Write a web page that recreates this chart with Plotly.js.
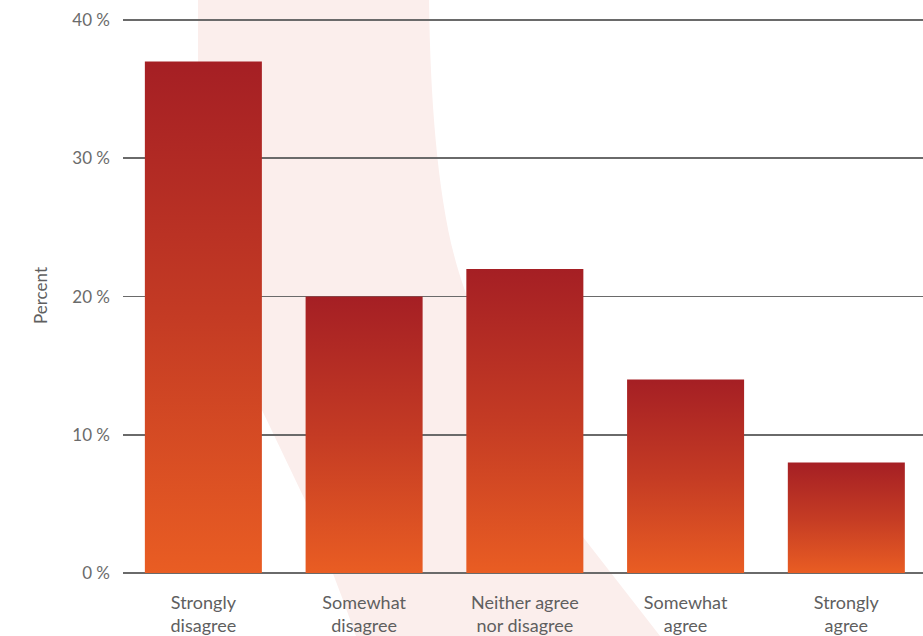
<!DOCTYPE html>
<html>
<head>
<meta charset="utf-8">
<script src="https://cdn.plot.ly/plotly-3.0.1.min.js"></script>
<style>
  html, body { margin: 0; padding: 0; background: #ffffff; }
  #chart { width: 923px; height: 636px; }
</style>
</head>
<body>
<div id="chart"></div>
<script>
// Survey responses (percent of respondents)
const categories = [
  'Strongly<br>disagree',
  'Somewhat<br>disagree',
  'Neither agree<br>nor disagree',
  'Somewhat<br>agree',
  'Strongly<br>agree'
];
const percents = [37, 20, 22, 14, 8];
const yTicks = [0, 10, 20, 30, 40];
const yTickText = yTicks.map(v => v + ' %');

// Plot frame in pixels
const W = 923, H = 636;
const M = { l: 123, r: 0, t: 19, b: 63 };
const PW = W - M.l - M.r, PH = H - M.t - M.b;

// Decorative swoosh behind the bars, outlined in page pixels and
// converted to paper coordinates.
function px(x, y) {
  return ((x - M.l) / PW).toFixed(4) + ',' + ((H - M.b - y) / PH).toFixed(4);
}
const swoosh =
  'M ' + px(198, -5) +
  ' L ' + px(429, -5) +
  ' C ' + px(430, 100) + ' ' + px(438, 200) + ' ' + px(457, 266) +
  ' C ' + px(476, 332) + ' ' + px(540, 470) + ' ' + px(583, 537) +
  ' L ' + px(660, 636) +
  ' L ' + px(690, 675) +
  ' L ' + px(370, 675) +
  ' L ' + px(343, 600) +
  ' L ' + px(305, 500) +
  ' L ' + px(262, 410) +
  ' C ' + px(225, 335) + ' ' + px(198, 250) + ' ' + px(198, 120) +
  ' Z';

const FONT = 'Lato, "Open Sans", sans-serif';

const trace = {
  type: 'bar',
  x: categories,
  y: percents,
  marker: { color: '#C9391F', line: { width: 0 } },
  hoverinfo: 'x+y'
};

const layout = {
  width: W,
  height: H,
  margin: M,
  paper_bgcolor: '#ffffff',
  plot_bgcolor: 'rgba(0,0,0,0)',
  showlegend: false,
  bargap: 0.272,
  font: { family: FONT, color: '#666666' },
  xaxis: {
    type: 'category',
    range: [-0.5, 4.477],
    showgrid: false,
    zeroline: false,
    showline: false,
    ticks: '',
    tickfont: { family: FONT, size: 18, color: '#5f5f5f' },
    ticklabelstandoff: 17,
    fixedrange: true
  },
  yaxis: {
    range: [0, 40.08],
    tickmode: 'array',
    tickvals: yTicks,
    ticktext: yTickText,
    showgrid: true,
    gridcolor: '#6a6a6a',
    gridwidth: 1.8,
    zeroline: true,
    zerolinecolor: '#6a6a6a',
    zerolinewidth: 1.8,
    showline: false,
    ticks: '',
    tickfont: { family: FONT, size: 17, color: '#6b6b6b' },
    ticklabelstandoff: 12,
    fixedrange: true
  },
  shapes: [{
    type: 'path',
    xref: 'paper',
    yref: 'paper',
    path: swoosh,
    fillcolor: '#FBEEEC',
    line: { width: 0 },
    layer: 'below'
  }],
  annotations: [{
    text: 'Percent',
    xref: 'paper', yref: 'paper',
    x: (40 - M.l) / PW, y: (H - M.b - 296) / PH,
    xanchor: 'center', yanchor: 'middle',
    textangle: -90,
    showarrow: false,
    font: { family: FONT, size: 17, color: '#5f5f5f' }
  }]
};

// Vertical dark-red to orange gradient applied to each bar
function applyGradient(gd) {
  const svg = gd.querySelector('svg.main-svg');
  if (!svg) return;
  const NS = 'http://www.w3.org/2000/svg';
  let defs = svg.querySelector('defs');
  if (!defs) { defs = document.createElementNS(NS, 'defs'); svg.insertBefore(defs, svg.firstChild); }
  if (!svg.querySelector('#barGrad')) {
    const g = document.createElementNS(NS, 'linearGradient');
    g.setAttribute('id', 'barGrad');
    g.setAttribute('x1', '0'); g.setAttribute('y1', '0');
    g.setAttribute('x2', '0'); g.setAttribute('y2', '1');
    [['0', '#A51F24'], ['0.5', '#C43B24'], ['1', '#E95D23']].forEach(([o, c]) => {
      const s = document.createElementNS(NS, 'stop');
      s.setAttribute('offset', o);
      s.setAttribute('stop-color', c);
      g.appendChild(s);
    });
    defs.appendChild(g);
  }
  gd.querySelectorAll('g.trace.bars path').forEach(p => {
    p.style.fill = 'url(#barGrad)';
  });
}

const gd = document.getElementById('chart');
Plotly.newPlot(gd, [trace], layout, { displayModeBar: false, staticPlot: true }).then(() => {
  applyGradient(gd);
  gd.on('plotly_afterplot', () => applyGradient(gd));
});
</script>
</body>
</html>
